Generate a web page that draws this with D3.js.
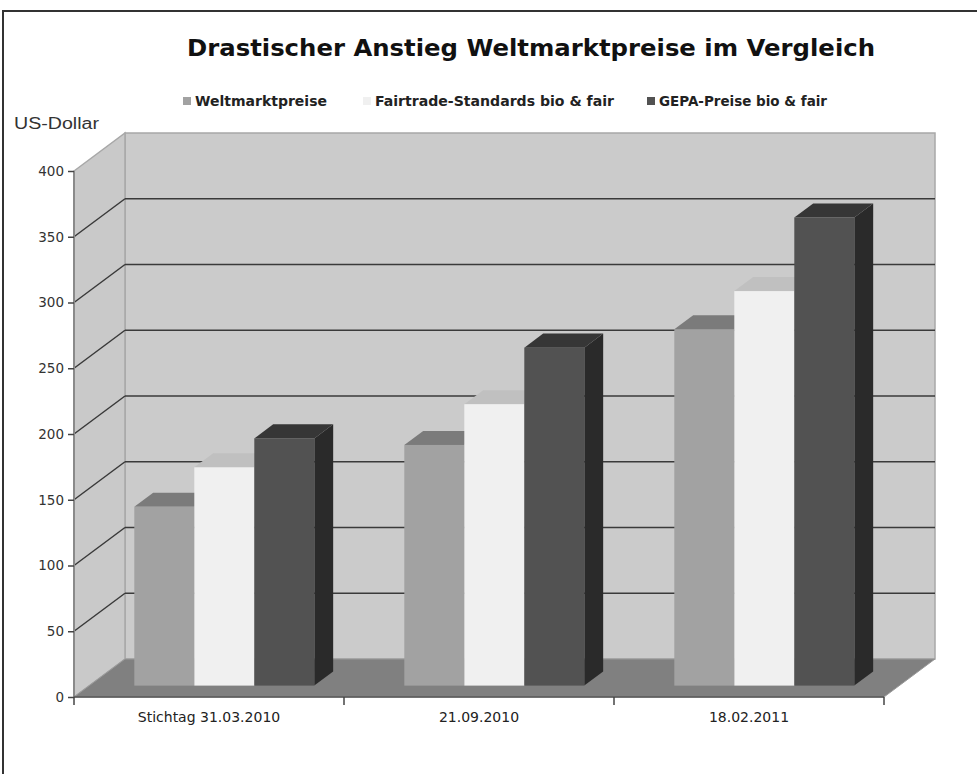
<!DOCTYPE html>
<html>
<head>
<meta charset="utf-8">
<script src="https://d3js.org/d3.v7.min.js"></script>
<style>
  body { margin: 0; background: #fff; }
  text { font-family: "DejaVu Sans", Verdana, sans-serif; }
</style>
</head>
<body>
<svg width="977" height="774" id="chart"></svg>
<script>
  // values (US-Dollar)
  const categories = ["Stichtag 31.03.2010", "21.09.2010", "18.02.2011"];
  const seriesNames = ["Weltmarktpreise", "Fairtrade-Standards bio & fair", "GEPA-Preise bio & fair"];
  const weltmarkt = [136, 183, 271];
  const fairtrade = [166, 214, 300];
  const gepa = [188, 257, 356];
  const yTicks = [0, 50, 100, 150, 200, 250, 300, 350, 400];

  const seriesValues = [weltmarkt, fairtrade, gepa];
  const colours = [
    {front: "#a2a2a2", top: "#7b7b7b", side: "#787878"},
    {front: "#f0f0f0", top: "#c0c0c0", side: "#bcbcbc"},
    {front: "#525252", top: "#363636", side: "#2a2a2a"}
  ];

  const svg = d3.select("#chart");

  // frame
  svg.append("path")
    .attr("d", "M3,774 V11 H977")
    .attr("fill", "none")
    .attr("stroke", "#333")
    .attr("stroke-width", 2);

  svg.append("text")
    .attr("x", 531).attr("y", 56)
    .attr("text-anchor", "middle")
    .style("font-weight", "bold")
    .style("font-size", "23px")
    .attr("textLength", 688)
    .attr("lengthAdjust", "spacingAndGlyphs")
    .attr("fill", "#111")
    .text("Drastischer Anstieg Weltmarktpreise im Vergleich");

  // legend
  const legendX = [183, 363, 647];
  const legendW = [132, 239, 168];
  const legend = svg.selectAll(".legend")
    .data(seriesNames)
    .enter().append("g")
    .attr("class", "legend")
    .attr("transform", (d, i) => "translate(" + legendX[i] + ",97)");
  legend.append("rect")
    .attr("width", 8).attr("height", 8)
    .attr("fill", (d, i) => colours[i].front);
  legend.append("text")
    .attr("x", 12).attr("y", 9)
    .style("font-weight", "bold")
    .style("font-size", "13.5px")
    .attr("textLength", (d, i) => legendW[i])
    .attr("lengthAdjust", "spacingAndGlyphs")
    .attr("fill", "#222")
    .text(d => d);

  svg.append("text")
    .attr("x", 14).attr("y", 129)
    .style("font-family", "'Liberation Sans', Arial, sans-serif")
    .style("font-size", "16px")
    .attr("textLength", 85)
    .attr("lengthAdjust", "spacingAndGlyphs")
    .attr("fill", "#333")
    .text("US-Dollar");

  // 3d box
  const DX = 51, DY = 38;
  const x = d3.scaleBand().domain(categories).range([74, 884]);
  const xs = d3.scaleBand().domain(seriesNames).range([0, x.bandwidth()]).paddingOuter(0.75);
  const y = d3.scaleLinear().domain([0, 400]).range([697, 171]);

  const x0 = x.range()[0], x1 = x.range()[1];
  const y0 = y(0), yTop = y(400);

  // back wall
  svg.append("rect")
    .attr("x", x0 + DX).attr("y", yTop - DY)
    .attr("width", x1 - x0).attr("height", y0 - yTop)
    .attr("fill", "#cbcbcb")
    .attr("stroke", "#a8a8a8").attr("stroke-width", 1.5);

  // left wall
  svg.append("polygon")
    .attr("points", [[x0, yTop], [x0 + DX, yTop - DY], [x0 + DX, y0 - DY], [x0, y0]].join(" "))
    .attr("fill", "#c9c9c9")
    .attr("stroke", "#a8a8a8").attr("stroke-width", 1.5);

  // gridlines
  const grid = yTicks.filter(t => t > 0 && t < 400);
  svg.selectAll(".gridBack").data(grid).enter().append("line")
    .attr("x1", x0 + DX).attr("x2", x1 + DX)
    .attr("y1", d => y(d) - DY).attr("y2", d => y(d) - DY)
    .attr("stroke", "#3a3a3a").attr("stroke-width", 1.5);
  svg.selectAll(".gridSide").data(grid).enter().append("line")
    .attr("x1", x0).attr("x2", x0 + DX)
    .attr("y1", d => y(d)).attr("y2", d => y(d) - DY)
    .attr("stroke", "#3a3a3a").attr("stroke-width", 1.5);

  // floor
  svg.append("polygon")
    .attr("points", [[x0, y0], [x1, y0], [x1 + DX, y0 - DY], [x0 + DX, y0 - DY]].join(" "))
    .attr("fill", "#808080")
    .attr("stroke", "#9a9a9a").attr("stroke-width", 1);

  // bars
  const f0 = 0.3, f1 = 0.67;
  const bdx = (f1 - f0) * DX, bdy = (f1 - f0) * DY;
  const bars = [];
  categories.forEach((c, ci) => {
    seriesNames.forEach((s, si) => {
      bars.push({cat: c, series: s, si: si, value: seriesValues[si][ci]});
    });
  });

  const bar = svg.selectAll(".bar")
    .data(bars)
    .enter().append("g")
    .attr("class", "bar");

  const geom = d => {
    const bx = x(d.cat) + xs(d.series) + f0 * DX;
    const w = xs.bandwidth();
    const top = y(d.value) - f0 * DY;
    const base = y(0) - f0 * DY;
    return {bx, w, top, base};
  };

  bar.append("polygon")
    .attr("points", d => {
      const g = geom(d);
      return [[g.bx + g.w, g.top], [g.bx + g.w + bdx, g.top - bdy], [g.bx + g.w + bdx, g.base - bdy], [g.bx + g.w, g.base]].join(" ");
    })
    .attr("fill", d => colours[d.si].side);

  bar.append("polygon")
    .attr("points", d => {
      const g = geom(d);
      return [[g.bx, g.top], [g.bx + g.w, g.top], [g.bx + g.w + bdx, g.top - bdy], [g.bx + bdx, g.top - bdy]].join(" ");
    })
    .attr("fill", d => colours[d.si].top);

  bar.append("rect")
    .attr("x", d => geom(d).bx)
    .attr("y", d => geom(d).top)
    .attr("width", xs.bandwidth())
    .attr("height", d => geom(d).base - geom(d).top)
    .attr("fill", d => colours[d.si].front);

  // y axis
  svg.append("line")
    .attr("x1", x0).attr("x2", x0)
    .attr("y1", yTop).attr("y2", y0)
    .attr("stroke", "#8a8a8a").attr("stroke-width", 2);

  const yAxis = svg.append("g")
    .attr("transform", "translate(" + x0 + ",0)")
    .call(d3.axisLeft(y).tickValues(yTicks).tickSize(6).tickPadding(4));
  yAxis.select(".domain").remove();
  yAxis.selectAll("line").attr("stroke", "#444").attr("stroke-width", 1.5);
  yAxis.selectAll("text")
    .style("font-family", "'DejaVu Sans', Verdana, sans-serif")
    .style("font-size", "13.5px")
    .attr("fill", "#333");

  // x axis
  const xAxis = svg.append("g")
    .attr("transform", "translate(0," + y0 + ")");
  xAxis.append("line")
    .attr("x1", x0).attr("x2", x1)
    .attr("stroke", "#555").attr("stroke-width", 1.5);
  xAxis.selectAll(".tick")
    .data([x0].concat(categories.map(c => x(c) + x.bandwidth())))
    .enter().append("line")
    .attr("x1", d => d).attr("x2", d => d)
    .attr("y1", 0).attr("y2", 8)
    .attr("stroke", "#444").attr("stroke-width", 1.5);
  xAxis.selectAll(".catLabel")
    .data(categories)
    .enter().append("text")
    .attr("x", d => x(d) + x.bandwidth() / 2)
    .attr("y", 25)
    .attr("text-anchor", "middle")
    .style("font-size", "14px")
    .attr("fill", "#222")
    .text(d => d);
</script>
</body>
</html>
